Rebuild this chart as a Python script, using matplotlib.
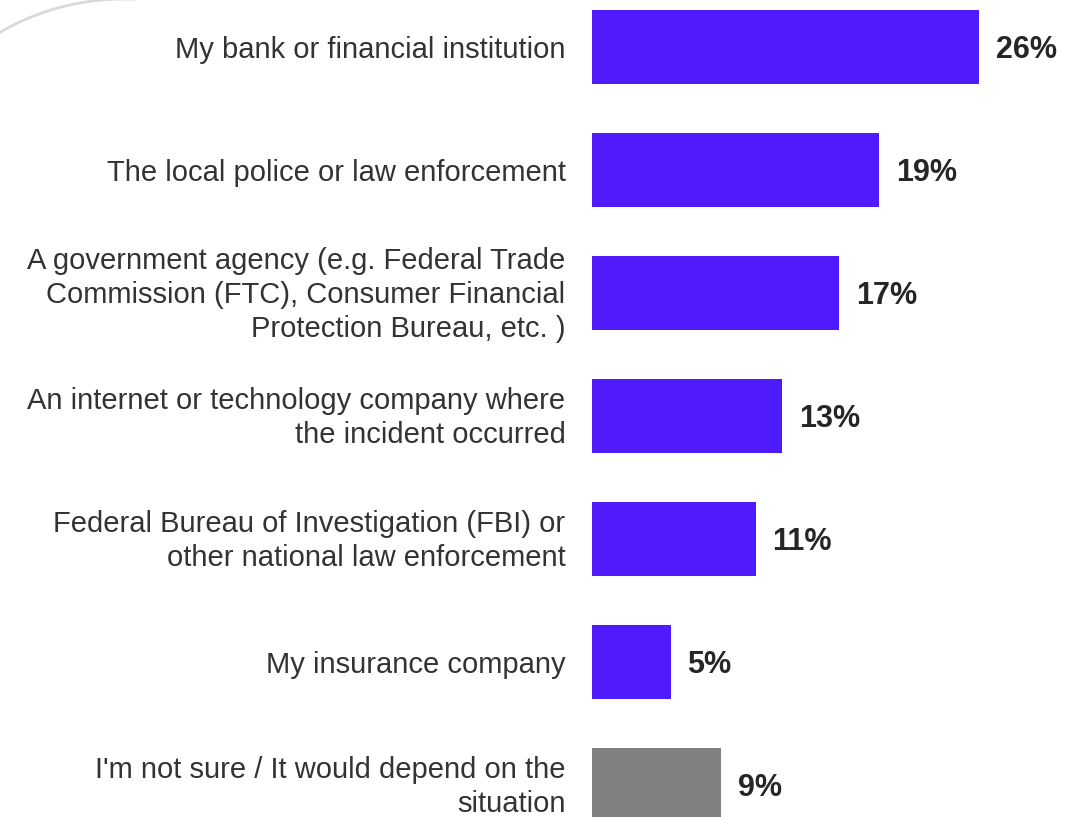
import matplotlib.pyplot as plt
from matplotlib.patches import Arc
from matplotlib.transforms import ScaledTranslation

plt.rcParams['font.family'] = ['Liberation Sans', 'DejaVu Sans']

categories = [
    'My bank or financial institution',
    'The local police or law enforcement',
    'A government agency (e.g. Federal Trade\nCommission (FTC), Consumer Financial\nProtection Bureau, etc. )',
    'An internet or technology company where\nthe incident occurred',
    'Federal Bureau of Investigation (FBI) or\nother national law enforcement',
    'My insurance company',
    "I'm not sure / It would depend on the\nsituation",
]
values = [26.0, 19.3, 16.6, 12.8, 11.0, 5.3, 8.7]
bar_colors = ['#501BFC'] * 6 + ['#808080']

fig = plt.figure(figsize=(10.86, 8.17), dpi=100)

# faint decorative arc in the top-left corner
arc = Arc((124 / 1086, 1 - 247 / 817), 2 * 248 / 1086, 2 * 248 / 817,
          theta1=88, theta2=121, transform=fig.transFigure,
          color='#d9d9d9', lw=2)
fig.patches.append(arc)

ax = fig.add_axes([592 / 1086, 0, 1 - 592 / 1086, 1])
pos = list(range(len(categories)))
ax.barh(pos, values, height=0.6, color=bar_colors)
ax.set_xlim(0, 494 / 14.88)
ax.set_ylim(6 + 32 / 123, -47 / 123)

for p, v in zip(pos, values):
    ax.annotate(f'{v:.0f}%', (v, p), xytext=(12, -2), textcoords='offset points',
                ha='left', va='center', fontsize=22, fontweight='bold',
                color='#262626')

ax.set_yticks(pos)
ax.set_yticklabels(categories, fontsize=21, color='#333333', linespacing=1.27)
ax.tick_params(axis='y', length=0, pad=19)
# nudge wrapped labels up a little so they sit centred on the bar
for lab in ax.get_yticklabels():
    if '\n' in lab.get_text():
        lab.set_transform(lab.get_transform() +
                          ScaledTranslation(0, 0.04, fig.dpi_scale_trans))
ax.set_xticks([])
for s in ax.spines.values():
    s.set_visible(False)
ax.patch.set_alpha(0)

plt.savefig('out.png', dpi=100)
